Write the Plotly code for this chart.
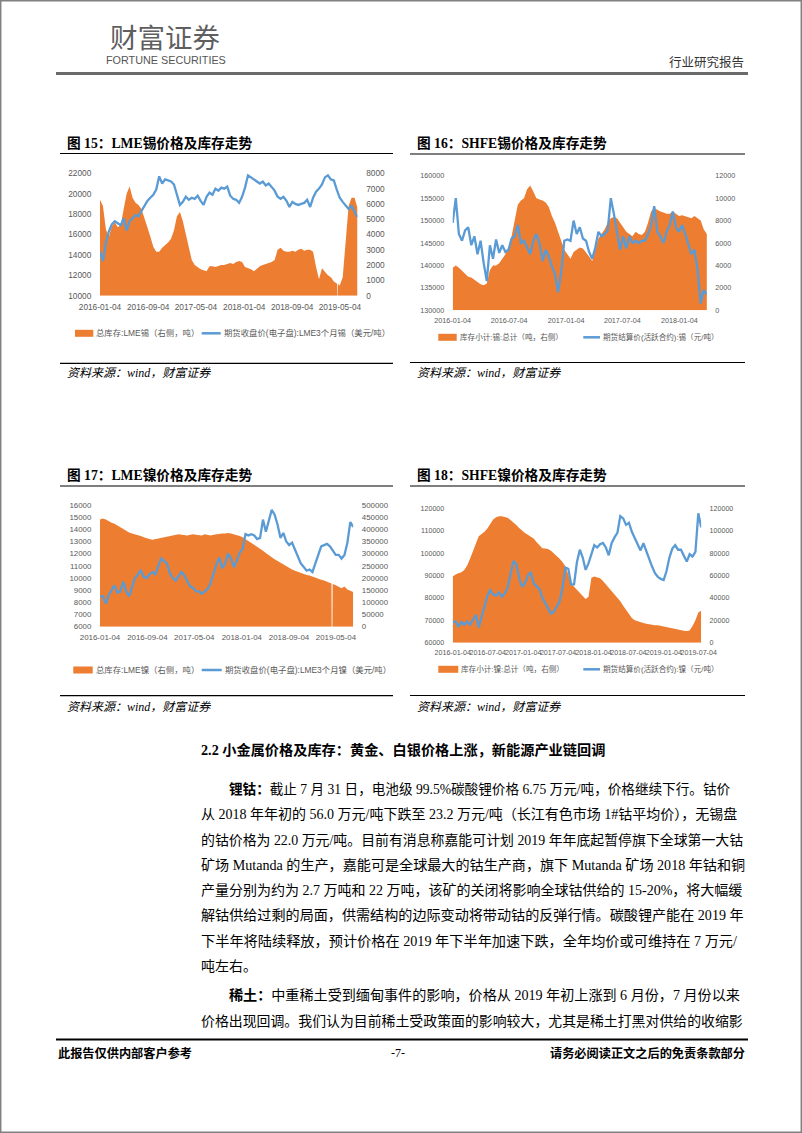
import pandas as pd
import plotly.graph_objects as go

# ---------------- data ----------------
# Fig 15: LME tin, 15-day steps from 2016-01-04
tin_lme_price = [14300, 13400, 15200, 16300, 17000, 17300, 17100, 16900, 17600, 16400,
                 17300, 17600, 17900, 17800, 18300, 18800, 19300, 19600, 19900, 20400,
                 21700, 21000, 21400, 21300, 21200, 20900, 19900, 18900, 19200, 19700,
                 19400, 19600, 19500, 19800, 19300, 18900, 19700, 20100, 19900, 20500,
                 20300, 20600, 20500, 20700, 19800, 19500, 19400, 19100, 19700, 20600,
                 21800, 21600, 21400, 21200, 21000, 21200, 20800, 21000, 20600, 20300,
                 19700, 19500, 19700, 19300, 18700, 19200, 19000, 18900, 19000, 19100,
                 19400, 18700, 19600, 20200, 20500, 20900, 21600, 21800, 21400, 21300,
                 20400, 19600, 19200, 18900, 18500, 18800, 18200, 17700]
tin_lme_stock = [6270, 5870, 4330, 3870, 4530, 4800, 4470, 4600, 5670, 6670,
                 7130, 6400, 6070, 5930, 5670, 5130, 4470, 3870, 3200, 2870,
                 2870, 3130, 3270, 3470, 3730, 4270, 5200, 5470, 4870, 4000,
                 3330, 2330, 2000, 1870, 1730, 1670, 1600, 1930, 1930, 1870,
                 1930, 2000, 2000, 2070, 2130, 2070, 2200, 2270, 2200, 1870,
                 1800, 1730, 1600, 1800, 1930, 2000, 2070, 2130, 2200, 2330,
                 3000, 3130, 2930, 2870, 2870, 2930, 2870, 3000, 3070, 2930,
                 3000, 3000, 2870, 1870, 1070, 1800, 1530, 1330, 1200, 930,
                 800, 670, 1200, 3330, 5870, 6400, 6400, 5730]
tin_lme_gap_dates = ['2019-04-20', '2019-04-21', '2019-04-23', '2019-04-24']
tin_lme_gap_values = [780, 0, 0, 760]
tin_lme_left_ticks = [10000, 12000, 14000, 16000, 18000, 20000, 22000]
tin_lme_right_ticks = [0, 1000, 2000, 3000, 4000, 5000, 6000, 7000, 8000]
lme_date_ticks = ['2016-01-04', '2016-09-04', '2017-05-04', '2018-01-04', '2018-09-04', '2019-05-04']

# Fig 16: SHFE tin, 10-day steps from 2016-01-04
tin_shfe_price = [149500, 155000, 147000, 145500, 147800, 148500, 144500, 146500, 142500, 145500,
                  140500, 136500, 144500, 141500, 145800, 142800, 144500, 143000, 143500, 146000,
                  146500, 149000, 145000, 145500, 144000, 142500, 145500, 147000, 145000, 141000,
                  143500, 142000, 139800, 138000, 134000, 138500, 145500, 145800, 145500, 150000,
                  147000, 148500, 146000, 145500, 143000, 141500, 144000, 147500, 146500, 147000,
                  147800, 155000, 151500, 147500, 143500, 146500, 143800, 146500, 145000, 145500,
                  145000, 145500, 145500, 147000, 149000, 153200, 147500, 146500, 145000, 147500,
                  149000, 152000, 148500, 147500, 149000, 147000, 145000, 142500, 143500, 139000,
                  131500, 134500, 133500]
tin_shfe_stock = [3800, 4000, 3800, 3520, 3200, 3000, 2920, 2680, 2520, 2320,
                  2240, 2400, 3600, 4000, 4000, 4200, 4600, 5000, 5600, 6600,
                  8000, 9400, 9800, 10000, 10800, 11120, 10600, 10000, 9880, 9800,
                  9600, 9200, 8400, 7800, 7000, 6200, 5400, 5000, 4600, 5200,
                  5400, 5600, 5520, 5200, 4800, 4400, 5400, 6400, 6800, 7200,
                  7800, 8200, 8320, 8200, 7800, 7400, 7000, 6800, 6600, 7000,
                  6800, 6720, 7000, 7800, 8800, 9120, 8920, 8800, 8720, 8600,
                  8600, 8800, 8600, 8400, 8480, 8400, 8320, 8200, 8400, 8200,
                  8000, 7200, 6800]
tin_shfe_left_ticks = [130000, 135000, 140000, 145000, 150000, 155000, 160000]
tin_shfe_right_ticks = [0, 2000, 4000, 6000, 8000, 10000, 12000]
shfe_tin_date_ticks = ['2016-01-04', '2016-07-04', '2017-01-04', '2017-07-04', '2018-01-04']

# Fig 17: LME nickel, 15-day steps from 2016-01-04
ni_lme_price = [8500, 8500, 7900, 8600, 9000, 9400, 8800, 8900, 9700, 8900,
                8500, 9300, 10000, 10300, 10600, 10100, 10000, 10300, 10500, 10300,
                11000, 11600, 11400, 11200, 10400, 10000, 9800, 10200, 10500, 10200,
                9700, 9300, 9200, 8900, 8900, 8700, 8900, 9100, 9600, 10400,
                11100, 11700, 10800, 11200, 12000, 11600, 10900, 11400, 12100, 12400,
                13600, 13500, 13600, 13500, 13200, 13300, 14800, 13800, 14600, 15600,
                15200, 14400, 13300, 13700, 13000, 12700, 12900, 12300, 11800, 11200,
                10900, 10600, 10700, 10500, 11200, 11900, 12600, 12700, 12800, 12600,
                12200, 11900, 11900, 11600, 11900, 12900, 14600, 14200]
ni_lme_stock = [440000, 445000, 440000, 432500, 427500, 422500, 415000, 410000, 402500, 395000,
                387500, 382500, 380000, 377500, 372500, 367500, 362500, 360000, 357500, 360000,
                362500, 365000, 367500, 367500, 370000, 372500, 375000, 380000, 377500, 375000,
                375000, 377500, 380000, 377500, 377500, 375000, 380000, 377500, 375000, 377500,
                380000, 380000, 382500, 382500, 385000, 382500, 380000, 377500, 372500, 367500,
                360000, 350000, 342500, 335000, 327500, 320000, 312500, 302500, 292500, 285000,
                277500, 270000, 262500, 255000, 250000, 242500, 235000, 230000, 225000, 220000,
                217500, 212500, 210000, 205000, 202500, 197500, 192500, 190000, 185000, 180000,
                175000, 170000, 162500, 157500, 165000, 152500, 147500, 142500]
ni_lme_gap_dates = ['2019-04-11', '2019-04-12', '2019-04-16', '2019-04-17']
ni_lme_gap_values = [177000, 0, 0, 176000]
ni_lme_left_ticks = [6000, 7000, 8000, 9000, 10000, 11000, 12000, 13000, 14000, 15000, 16000]
ni_lme_right_ticks = [0, 50000, 100000, 150000, 200000, 250000, 300000, 350000, 400000, 450000, 500000]

# Fig 18: SHFE nickel, 15-day steps from 2016-01-04
ni_shfe_price = [69000, 69500, 67100, 69300, 68000, 69500, 68000, 70000, 72500, 66800,
                 71600, 75500, 81000, 83500, 81500, 81000, 82500, 80500, 82000, 84500,
                 90000, 96500, 95000, 89000, 85000, 86500, 90000, 91500, 86500, 85000,
                 84000, 80000, 77500, 75000, 73000, 73800, 76100, 78500, 84500, 93500,
                 93000, 86000, 86000, 96000, 101500, 98000, 92500, 95400, 99500, 103500,
                 102500, 104000, 104500, 102500, 99000, 104400, 107000, 109000, 116500, 115500,
                 112600, 113500, 109500, 106500, 103800, 101200, 104400, 100800, 97800, 94000,
                 91000, 89400, 88500, 88000, 92000, 98000, 102000, 103500, 101500, 101500,
                 98800, 96200, 99500, 98500, 100500, 117800, 111500]
ni_shfe_stock = [59000, 61000, 62000, 63000, 65000, 69000, 75000, 82000, 89000, 95000,
                 97000, 99000, 102000, 106000, 110000, 112000, 113000, 113000, 112600, 111600,
                 109600, 107600, 105000, 102400, 100000, 98000, 96400, 94600, 93000, 90000,
                 87000, 84400, 84000, 83600, 82000, 79600, 78000, 75000, 72000, 68000,
                 61000, 53000, 50000, 47000, 45000, 42000, 39000, 41000, 58000, 59000,
                 58600, 57600, 55000, 52000, 50000, 47000, 44000, 41000, 37000, 33000,
                 29000, 25000, 22000, 20000, 19000, 18400, 17600, 17000, 16400, 16000,
                 15600, 15600, 15000, 14400, 14000, 13600, 13000, 12000, 11600, 11000,
                 10600, 10400, 11000, 15000, 20000, 27000, 28600]
ni_shfe_left_ticks = [60000, 70000, 80000, 90000, 100000, 110000, 120000]
ni_shfe_right_ticks = [0, 20000, 40000, 60000, 80000, 100000, 120000]
shfe_ni_date_ticks = ['2016-01-04', '2016-07-04', '2017-01-04', '2017-07-04',
                      '2018-01-04', '2018-07-04', '2019-01-04', '2019-07-04']

# ---------------- helpers / styles ----------------
W, H = 802, 1133
def px(x): return x / W
def py(y): return 1 - y / H

ORANGE = '#ED7D31'
BLUE = '#5B9BD5'
TICK = '#595959'
SANS = 'Liberation Sans, Noto Sans CJK SC'
SERIF = 'Liberation Serif, Noto Sans CJK SC'
CJK = 'Noto Sans CJK SC'

fig = go.Figure()
axes = {}
shapes = []
ann = []

def series(values, start, freq, gap_dates=None, gap_values=None):
    s = pd.Series(values, index=pd.date_range(start, periods=len(values), freq=freq))
    if gap_dates:
        s = pd.concat([s, pd.Series(gap_values, index=pd.to_datetime(gap_dates))]).sort_index()
    return s

def add_chart(idx, stock, price, xdom, ydom, xrange, xticks, lticks, rticks, fs):
    xname = 'x' if idx == 1 else f'x{idx}'
    xkey = 'xaxis' if idx == 1 else f'xaxis{idx}'
    b, o = 2 * idx - 1, 2 * idx
    bname = 'y' if b == 1 else f'y{b}'
    bkey = 'yaxis' if b == 1 else f'yaxis{b}'
    oname, okey = f'y{o}', f'yaxis{o}'
    tf = dict(family=SANS, size=fs, color=TICK)
    fig.add_trace(go.Scatter(x=stock.index, y=stock.values, xaxis=xname, yaxis=bname,
                             mode='lines', line=dict(width=0, color=ORANGE),
                             fill='tozeroy', fillcolor=ORANGE, showlegend=False, hoverinfo='skip'))
    fig.add_trace(go.Scatter(x=price.index, y=price.values, xaxis=xname, yaxis=oname,
                             mode='lines', line=dict(width=2.3, color=BLUE), showlegend=False))
    common = dict(showgrid=False, zeroline=False, showline=False, ticks='outside',
                  tickcolor='rgba(0,0,0,0)', tickfont=tf, fixedrange=True, automargin=False)
    axes[xkey] = dict(type='date', domain=[px(xdom[0]), px(xdom[1])], range=list(xrange),
                      anchor=bname, tickmode='array', tickvals=xticks, ticktext=xticks,
                      tickangle=0, ticklen=3, **common)
    axes[bkey] = dict(domain=[py(ydom[1]), py(ydom[0])], range=[rticks[0], rticks[-1]],
                      side='right', anchor=xname, tickmode='array', tickvals=rticks,
                      ticktext=[str(v) for v in rticks], ticklen=6, **common)
    axes[okey] = dict(overlaying=bname, side='left', anchor=xname,
                      range=[lticks[0], lticks[-1]], tickmode='array', tickvals=lticks,
                      ticktext=[str(v) for v in lticks], ticklen=6, **common)

def text(x, y, s, size, color='#000', family=CJK, anchor='left'):
    ann.append(dict(x=px(x), y=py(y), xref='paper', yref='paper', text=s, showarrow=False,
                    xanchor=anchor, yanchor='middle', borderpad=0,
                    font=dict(size=size, color=color, family=family)))

def hline(x0, x1, y, color='#000', width=1.2):
    shapes.append(dict(type='line', xref='paper', yref='paper', x0=px(x0), x1=px(x1),
                       y0=py(y), y1=py(y), line=dict(color=color, width=width)))

def legend(y, ox0, ox1, otext, bx0, bx1, btext, fs):
    shapes.append(dict(type='rect', xref='paper', yref='paper', x0=px(ox0), x1=px(ox1),
                       y0=py(y + 3.5), y1=py(y - 3.5), fillcolor=ORANGE, line=dict(width=0)))
    shapes.append(dict(type='line', xref='paper', yref='paper', x0=px(bx0), x1=px(bx1),
                       y0=py(y), y1=py(y), line=dict(color=BLUE, width=2.5)))
    text(ox1 + 2, y, otext, fs, TICK, SANS)
    text(bx1 + 2, y, btext, fs, TICK, SANS)

# ---------------- charts ----------------
add_chart(1, series(tin_lme_stock, '2016-01-04', '15D', tin_lme_gap_dates, tin_lme_gap_values),
          series(tin_lme_price, '2016-01-04', '15D'),
          (100, 357.5), (173.3, 295.7), ('2016-01-04', '2019-08-01'), lme_date_ticks,
          tin_lme_left_ticks, tin_lme_right_ticks, 8.3)
add_chart(2, series(tin_shfe_stock, '2016-01-04', '10D'), series(tin_shfe_price, '2016-01-04', '10D'),
          (452.7, 706.9), (175.7, 310.3), ('2016-01-04', '2018-04-03'), shfe_tin_date_ticks,
          tin_shfe_left_ticks, tin_shfe_right_ticks, 7.2)
add_chart(3, series(ni_lme_stock, '2016-01-04', '15D', ni_lme_gap_dates, ni_lme_gap_values),
          series(ni_lme_price, '2016-01-04', '15D'),
          (100, 353.2), (505, 626.7), ('2016-01-04', '2019-08-01'), lme_date_ticks,
          ni_lme_left_ticks, ni_lme_right_ticks, 7.9)
add_chart(4, series(ni_shfe_stock, '2016-01-04', '15D'), series(ni_shfe_price, '2016-01-04', '15D'),
          (452.7, 701.2), (508.3, 642.7), ('2016-01-04', '2019-07-17'), shfe_ni_date_ticks,
          ni_shfe_left_ticks, ni_shfe_right_ticks, 7.1)

# chart frames: titles, rules, legends, sources
for (x0, x1, ty, ul, bl, sy, title) in [
        (60, 393, 142.5, 153.5, 363.3, 373, '图 15：LME锡价格及库存走势'),
        (410, 745, 142.5, 154, 362.5, 373, '图 16：SHFE锡价格及库存走势'),
        (60, 393, 475, 486, 695.7, 707, '图 17：LME镍价格及库存走势'),
        (410, 745, 475, 486, 695.5, 707, '图 18：SHFE镍价格及库存走势')]:
    text(x0 + 6, ty, '<b>' + title + '</b>', 13.7, '#000', SERIF)
    hline(x0, x1, ul)
    hline(x0, x1, bl)
    text(x0 + 6, sy, '<i>资料来源：wind，财富证券</i>', 12, '#000', SERIF)

legend(333.3, 75, 93.3, '总库存:LME锡（右侧，吨）', 201.7, 220.7,
       '期货收盘价(电子盘):LME3个月锡（美元/吨）', 8.4)
legend(337.3, 438.3, 456.7, '库存小计:锡:总计（吨，右侧）', 583.3, 600,
       '期货结算价(活跃合约):锡（元/吨）', 7.6)
legend(670, 73.3, 92.7, '总库存:LME镍（右侧，吨）', 201.7, 221.7,
       '期货收盘价(电子盘):LME3个月镍（美元/吨）', 8.4)
legend(669.3, 438.3, 458.3, '库存小计:镍:总计（吨，右侧）', 583.3, 600,
       '期货结算价(活跃合约):镍（元/吨）', 7.6)

# ---------------- page header / footer ----------------
shapes.append(dict(type='rect', xref='paper', yref='paper', x0=px(0.7), x1=px(801.3),
                   y0=py(1132.3), y1=py(0.7), line=dict(color='#808080', width=1.5)))
text(165, 36, '财富证券', 27.5, '#5f5f5f', CJK, 'center')
text(166, 60, 'FORTUNE SECURITIES', 10.8, '#555', SANS, 'center')
text(745, 61, '行业研究报告', 12.5, '#333', CJK, 'right')
hline(56, 748, 73.5, '#6a6a6a', 3)

hline(56, 748, 1039.5, '#000', 2)
text(57, 1053, '<b>此报告仅供内部客户参考</b>', 12.2, '#000', CJK)
text(398, 1053, '-7-', 12, '#000', SERIF, 'center')
text(746, 1053, '<b>请务必阅读正文之后的免责条款部分</b>', 12.2, '#000', CJK, 'right')

# ---------------- body text ----------------
text(200, 750, '<b>2.2 小金属价格及库存：黄金、白银价格上涨，新能源产业链回调</b>', 14.2, '#000', SERIF)
body = [
    (228, 13.6, '<b>锂钴：</b>截止 7 月 31 日，电池级 99.5%碳酸锂价格 6.75 万元/吨，价格继续下行。钴价'),
    (200, 14.0, '从 2018 年年初的 56.0 万元/吨下跌至 23.2 万元/吨（长江有色市场 1#钴平均价），无锡盘'),
    (200, 13.9, '的钴价格为 22.0 万元/吨。目前有消息称嘉能可计划 2019 年年底起暂停旗下全球第一大钴'),
    (200, 14.1, '矿场 Mutanda 的生产，嘉能可是全球最大的钴生产商，旗下 Mutanda 矿场 2018 年钴和铜'),
    (200, 14.0, '产量分别为约为 2.7 万吨和 22 万吨，该矿的关闭将影响全球钴供给的 15-20%，将大幅缓'),
    (200, 14.1, '解钴供给过剩的局面，供需结构的边际变动将带动钴的反弹行情。碳酸锂产能在 2019 年'),
    (200, 14.2, '下半年将陆续释放，预计价格在 2019 年下半年加速下跌，全年均价或可维持在 7 万元/'),
    (200, 14.0, '吨左右。'),
]
y = 789
for x, fs, s in body:
    text(x, y, s, fs, '#000', SERIF)
    y += 25.3
y += 4
for x, fs, s in [(228, 14.1, '<b>稀土：</b>中重稀土受到缅甸事件的影响，价格从 2019 年初上涨到 6 月份，7 月份以来'),
                 (200, 13.9, '价格出现回调。我们认为目前稀土受政策面的影响较大，尤其是稀土打黑对供给的收缩影')]:
    text(x, y, s, fs, '#000', SERIF)
    y += 25.3

fig.update_layout(width=W, height=H, autosize=False,
                  margin=dict(l=0, r=0, t=0, b=0, pad=0, autoexpand=False),
                  paper_bgcolor='white', plot_bgcolor='rgba(0,0,0,0)', hovermode=False,
                  showlegend=False, shapes=shapes, annotations=ann, **axes)
fig.write_html('out.html')
